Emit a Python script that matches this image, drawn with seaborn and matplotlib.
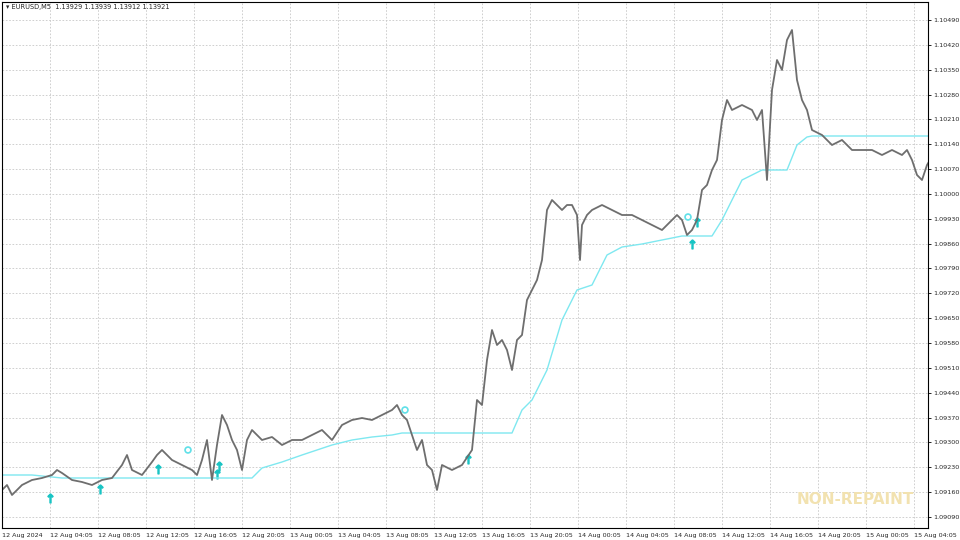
import matplotlib
matplotlib.use("Agg")
import matplotlib.pyplot as plt
import seaborn as sns
import numpy as np
import pandas as pd

# price trace, (bar index, pixel-read y converted to price below)
px_x = [0,5,10,20,30,40,50,55,60,70,80,90,100,110,120,125,130,140,150,155,160,170,180,190,195,200,205,210,215,220,225,230,235,240,245,250,260,270,280,290,300,310,320,330,340,350,360,370,380,390,395,400,405,410,415,420,425,430,435,440,450,460,470,475,480,485,490,495,500,505,510,515,520,525,530,535,540,545,550,555,560,565,570,575,578,580,585,590,600,610,620,630,640,650,660,670,675,680,685,690,695,700,705,710,715,720,725,730,740,750,755,760,765,770,775,780,785,790,795,800,805,810,820,830,840,850,860,870,880,890,900,905,910,915,920,925,928]
px_y = [490,485,495,485,480,478,475,470,473,480,482,485,480,478,465,455,470,475,462,455,450,460,465,470,475,460,440,480,445,415,425,440,450,470,440,430,440,437,445,440,440,435,430,440,425,420,418,420,415,410,405,415,420,435,450,440,465,470,490,465,470,465,450,400,405,360,330,345,340,350,370,340,335,300,290,280,260,210,200,205,210,205,205,215,260,225,215,210,205,210,215,215,220,225,230,220,215,220,235,230,220,190,185,170,160,120,100,110,105,110,120,110,180,90,60,70,40,30,80,100,110,130,135,145,140,150,150,150,155,150,155,150,160,175,180,165,160]
cy_x = [0,30,40,60,120,250,260,280,300,330,350,370,390,400,470,510,520,530,545,560,575,590,605,620,640,660,680,710,720,730,740,750,760,785,795,805,810,928]
cy_y = [475,475,476,478,478,478,468,462,455,445,440,437,435,433,433,433,410,400,370,320,290,285,255,247,244,240,236,236,220,200,180,175,170,170,145,137,136,136]
arrow_x = [48,98,156,215,217,466,690,695]
arrow_y = [498,489,469,474,466,459,244,222]
dot_x = [186,403,686]
dot_y = [450,410,217]
ytick_vals = [1.10490 - 0.0007*i for i in range(21)]
xtick_labels = ["12 Aug 2024","12 Aug 04:05","12 Aug 08:05","12 Aug 12:05","12 Aug 16:05","12 Aug 20:05",
                "13 Aug 00:05","13 Aug 04:05","13 Aug 08:05","13 Aug 12:05","13 Aug 16:05","13 Aug 20:05",
                "14 Aug 00:05","14 Aug 04:05","14 Aug 08:05","14 Aug 12:05","14 Aug 16:05","14 Aug 20:05",
                "15 Aug 00:05","15 Aug 04:05"]

def p(y): return 1.10490 - (np.asarray(y, float) - 20) / 35.5 * 0.001

sns.set_style("white")
plt.rcParams['font.family'] = ['DejaVu Sans']
fig = plt.figure(figsize=(9.6, 5.4), dpi=100)
ax = fig.add_axes([2/960, 12/540, 926/960, 526/540])
price = pd.DataFrame({"x": px_x, "y": p(px_y)})
cyan = pd.DataFrame({"x": cy_x, "y": p(cy_y)})
sns.lineplot(data=cyan, x="x", y="y", ax=ax, color="#7fe8f0", lw=1)
sns.lineplot(data=price, x="x", y="y", ax=ax, color="#6e6e6e", lw=1.3)
ax.scatter(arrow_x, p(arrow_y), marker=r"$\uparrow$", s=40, color="#19c4c4")
ax.scatter(dot_x, p(dot_y), marker="o", s=18, facecolor="none", edgecolor="#5fe0e8", lw=1.2)
ax.set_xlim(0, 926)
ax.set_ylim(p(528), p(2))
ax.set_xlabel(""); ax.set_ylabel("")
ax.yaxis.tick_right()
ax.set_yticks(ytick_vals)
ax.set_yticklabels([f"{v:.5f}" for v in ytick_vals], fontsize=4.6)
xt = [48*i for i in range(len(xtick_labels))]
ax.set_xticks(xt)
ax.set_xticklabels(xtick_labels, fontsize=4.6, ha="left")
ax.tick_params(length=2, width=0.6, color="black", pad=1.5)
ax.grid(True, color="#c8c8c8", ls=(0, (2, 2)), lw=0.6)
for s in ax.spines.values():
    s.set_color("black"); s.set_linewidth(0.8)
ax.text(0.004, 0.997, "▾ EURUSD,M5  1.13929 1.13939 1.13912 1.13921", transform=ax.transAxes,
        fontsize=4.8, va="top", ha="left")
ax.text(0.985, 0.04, "NON-REPAINT", transform=ax.transAxes, fontsize=11, fontweight="bold",
        color="#f2e2b0", ha="right", va="bottom")
fig.savefig("out.png", dpi=100)
